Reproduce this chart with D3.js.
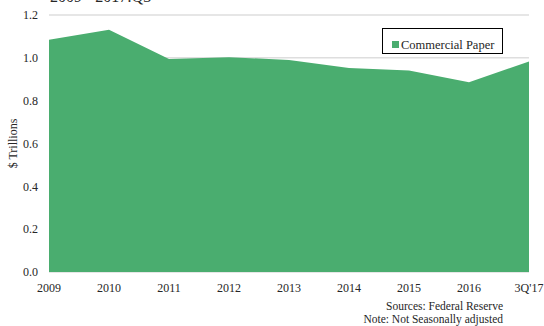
<!DOCTYPE html>
<html>
<head>
<meta charset="utf-8">
<script src="https://cdn.jsdelivr.net/npm/d3@7"></script>
<style>
	body { margin: 0; background: #fff; }
	svg text { font-family: "Liberation Serif", serif; fill: #262626; }
</style>
</head>
<body>
<div id="chart"></div>
<script>
// Commercial paper outstanding, $ trillions
const years = ['2009', '2010', '2011', '2012', '2013', '2014', '2015', '2016', "3Q'17"];
const paper = [1.084, 1.131, 0.995, 1.003, 0.99, 0.952, 0.941, 0.886, 0.983];
const yTicks = [0, 0.2, 0.4, 0.6, 0.8, 1.0, 1.2];

const width = 544, height = 326;
const margin = {top: 15, right: 15, bottom: 54, left: 49};

const svg = d3.select('#chart').append('svg')
	.attr('width', width)
	.attr('height', height);

const x = d3.scalePoint()
	.domain(years)
	.range([margin.left, width - margin.right]);

const y = d3.scaleLinear()
	.domain([0, 1.2])
	.range([height - margin.bottom, margin.top]);

// title, mostly cropped off the top like in the source image
svg.append('text')
	.attr('x', 50)
	.attr('y', 2)
	.style('font-size', '16px')
	.text('2009 - 2017:Q3');

// gridlines
svg.append('g')
	.selectAll('line')
	.data(yTicks)
	.enter()
		.append('line')
			.attr('x1', margin.left)
			.attr('x2', width - margin.right)
			.attr('y1', d => y(d))
			.attr('y2', d => y(d))
			.style('stroke', '#dedede')
			.style('stroke-width', 1.5);

const area = d3.area()
	.x((d, i) => x(years[i]))
	.y0(y(0))
	.y1(d => y(d));

svg.append('path')
	.datum(paper)
	.attr('d', area)
	.style('fill', '#4aad6f');

// y tick labels
svg.append('g')
	.selectAll('text')
	.data(yTicks)
	.enter()
		.append('text')
			.attr('x', 38)
			.attr('y', d => y(d))
			.attr('dy', '0.35em')
			.attr('text-anchor', 'end')
			.style('font-size', '12px')
			.text(d3.format('.1f'));

// x tick labels
svg.append('g')
	.selectAll('text')
	.data(years)
	.enter()
		.append('text')
			.attr('x', d => x(d))
			.attr('y', 292)
			.attr('text-anchor', 'middle')
			.style('font-size', '12px')
			.text(d => d);

svg.append('text')
	.attr('transform', 'translate(17,' + ((y(0) + y(1.2)) / 2) + ') rotate(-90)')
	.attr('text-anchor', 'middle')
	.style('font-size', '12px')
	.text('$ Trillions');

// legend
const legend = svg.append('g');
legend.append('rect')
	.attr('x', 382.5)
	.attr('y', 28.5)
	.attr('width', 120)
	.attr('height', 25)
	.style('fill', '#fff')
	.style('stroke', '#000')
	.style('stroke-width', 1);
legend.append('rect')
	.attr('x', 392)
	.attr('y', 41)
	.attr('width', 7)
	.attr('height', 7)
	.style('fill', '#4aad6f');
legend.append('text')
	.attr('x', 401)
	.attr('y', 48.5)
	.style('font-size', '12.5px')
	.text('Commercial Paper');

// notes
svg.append('text')
	.attr('x', 503)
	.attr('y', 309.5)
	.attr('text-anchor', 'end')
	.style('font-size', '11.5px')
	.text('Sources:  Federal  Reserve');
svg.append('text')
	.attr('x', 503)
	.attr('y', 322.5)
	.attr('text-anchor', 'end')
	.style('font-size', '11.5px')
	.text('Note:  Not Seasonally  adjusted');
</script>
</body>
</html>
